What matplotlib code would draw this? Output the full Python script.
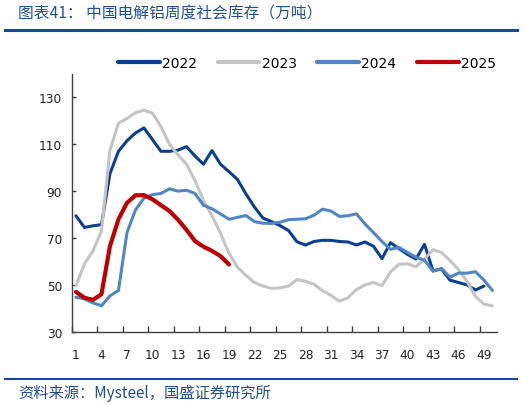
"""中国电解铝周度社会库存 折线图"""
import matplotlib
matplotlib.use("Agg")
import matplotlib.pyplot as plt
from matplotlib.lines import Line2D
import numpy as np

plt.rcParams["font.family"] = ["DejaVu Sans", "Noto Sans CJK SC"]
CJK = ["Noto Sans CJK SC", "DejaVu Sans"]

# ── 数据（万吨，按周） ──
stock_2022 = [79.5, 74.5, 75.2, 75.7, 97.5, 107, 111.5, 114.8, 117, 112,
              107, 107, 107.5, 109, 105, 101.5, 107.3, 101.5, 98.3, 95,
              88.8, 83.2, 78.5, 77, 75.3, 73.2, 68.4, 67, 68.5, 69,
              69, 68.5, 68.3, 67, 68.3, 66.5, 61.2, 68, 65.5, 63,
              61, 67.3, 56, 56.8, 52, 51, 50, 47.8, 49.5]
stock_2023 = [49.5, 59, 64.5, 73, 107.5, 119, 121, 123.5, 124.5, 123.3,
              117.5, 110, 105.5, 101.5, 94.5, 86, 79.5, 72, 63.5, 57.5,
              54, 51, 49.5, 48.5, 48.7, 49.5, 52.2, 51.5, 50.3, 47.5,
              45.5, 43, 44.5, 48, 50, 51, 49.7, 55.5, 58.8, 59,
              57.7, 61, 65, 63.8, 60.4, 56.5, 51.5, 45, 41.8, 41]
stock_2024 = [44.7, 44, 42.3, 41.1, 45.3, 47.6, 72.3, 82, 87, 88.5,
              89, 91, 90, 90.4, 89, 84, 82.5, 80.3, 78, 78.8,
              79.6, 77, 76.3, 76.2, 76.7, 77.8, 78, 78.2, 79.7, 82.3,
              81.5, 79.2, 79.5, 80.3, 76, 72.3, 68.5, 65.2, 66, 63.8,
              61.8, 60.5, 55.8, 57, 53.3, 55, 55, 55.6, 52, 47.6]
stock_2025 = [47, 44.5, 43.6, 46, 66.5, 78, 85, 88.2, 88.3, 86.5,
              84, 81.5, 77.8, 73.5, 68.7, 66.3, 64.5, 62.3, 58.7]

series = [("2022", stock_2022, "#0B3F91", 2.2),
          ("2023", stock_2023, "#C4C4C4", 2.2),
          ("2024", stock_2024, "#4F86C6", 2.2),
          ("2025", stock_2025, "#C00000", 3.0)]

y_ticks = [30, 50, 70, 90, 110, 130]
x_labels = list(range(1, 50, 3))
n_weeks = 50

# ── 画图 ──
fig = plt.figure(figsize=(5.32, 4.06), dpi=100)
ax = fig.add_axes([0.1348, 0.1805, 0.7989, 0.6348])

for name, vals, c, lw in series:
    weeks = np.arange(1, len(vals) + 1)
    ax.plot(weeks, vals, color=c, lw=lw, label=name,
            solid_joinstyle="round", solid_capstyle="round")

ax.set_xlim(0.5, n_weeks + 0.5)
ax.set_ylim(30, 140)
ax.set_yticks(y_ticks)
ax.set_xticks(np.arange(0.5, 49, 3))
ax.set_xticklabels([])
ax.set_xticks(x_labels, minor=True)
ax.set_xticklabels([str(v) for v in x_labels], minor=True)

for s in ["top", "right"]:
    ax.spines[s].set_visible(False)
for s in ["left", "bottom"]:
    ax.spines[s].set_color("#404040")
    ax.spines[s].set_linewidth(1.0)

ax.tick_params(axis="x", which="major", direction="in", length=4, width=1, color="#404040")
ax.tick_params(axis="x", which="minor", length=0, pad=11.5, labelsize=8.7, labelcolor="#222222")
ax.tick_params(axis="y", direction="in", length=3, width=1, color="#404040",
               pad=7, labelsize=8.7, labelcolor="#222222")

fig.legend(loc="center", bbox_to_anchor=(0.577, 0.842), ncol=4, frameon=False,
           fontsize=10, handlelength=3.0, handletextpad=0.15, columnspacing=1.5)
leg = fig.legends[0]
for h in leg.get_lines():
    h.set_linewidth(3.0)

# ── 标题与来源 ──
blue = "#1F4E9B"
fig.text(18 / 532, 1 - 14 / 406, "图表41： 中国电解铝周度社会库存（万吨）",
         fontsize=11.3, color=blue, va="center", ha="left", family=CJK)
fig.add_artist(Line2D([5 / 532, 517 / 532], [1 - 30.7 / 406] * 2, color="#1549A0", lw=2.2))
fig.add_artist(Line2D([5 / 532, 517 / 532], [1 - 380 / 406] * 2, color="#1549A0", lw=1.5))
fig.text(18 / 532, 1 - 393 / 406, "资料来源：Mysteel，国盛证券研究所",
         fontsize=11, color=blue, va="center", ha="left", family=CJK)

fig.savefig("out.png", dpi=100)
print("saved out.png")
